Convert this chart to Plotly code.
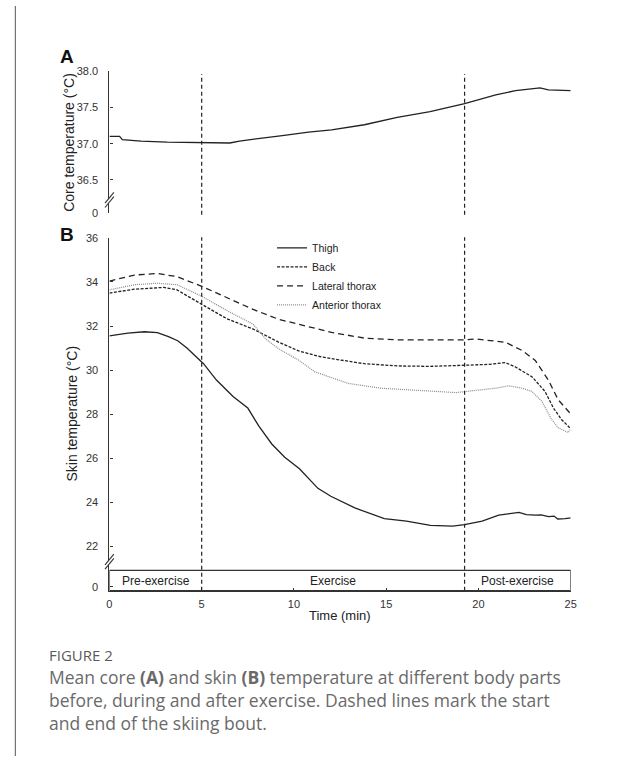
import plotly.graph_objects as go

W, H = 622, 762

# ---------------- data ----------------
core_t = [0, 0.55, 0.7, 1.71, 3.13, 4.96, 6.52, 7.05, 8.12, 9.37, 10.79, 12.04, 13.82,
          15.6, 17.38, 19.25, 20.94, 22.01, 23.34, 23.79, 25]
core_v = [37.10, 37.10, 37.055, 37.036, 37.02, 37.018, 37.009, 37.036, 37.067, 37.11, 37.158,
          37.19, 37.26, 37.36, 37.44, 37.55, 37.67, 37.73, 37.766, 37.74, 37.73]

thigh_t = [0, 1, 1.9, 2.6, 3.2, 3.7, 4.2, 4.6, 5.1, 5.8, 6.7, 7.5, 8.1, 8.8, 9.5, 10.3, 11.3,
           12.0, 13.3, 14.9, 16.1, 17.4, 18.6, 19.25, 20.2, 21.1, 21.7, 22.2, 22.6, 23.1, 23.4,
           23.8, 24.1, 24.3, 24.7, 25]
thigh_v = [31.55, 31.68, 31.74, 31.70, 31.52, 31.33, 31.0, 30.67, 30.29, 29.55, 28.8, 28.28,
           27.46, 26.65, 26.05, 25.53, 24.64, 24.28, 23.75, 23.27, 23.15, 22.96, 22.93, 22.99,
           23.15, 23.42, 23.5, 23.55, 23.45, 23.42, 23.44, 23.36, 23.38, 23.25, 23.27, 23.3]

back_t = [0, 1.35, 2.95, 3.66, 5.03, 6.37, 7.79, 9.19, 10.26, 11.32, 12.04, 13.82, 15.6, 17.38,
          19.25, 20.58, 21.47, 22.01, 22.9, 23.61, 24.06, 24.5, 24.95]
back_v = [33.49, 33.67, 33.75, 33.64, 32.97, 32.33, 31.86, 31.26, 30.87, 30.63, 30.52, 30.29,
          30.19, 30.17, 30.22, 30.26, 30.34, 30.14, 29.7, 29.03, 28.29, 27.76, 27.39]

lat_t = [0, 1.35, 2.6, 3.66, 5.03, 6.37, 7.79, 9.19, 10.26, 11.15, 12.04, 13.82, 15.6, 17.38,
         19.25, 19.87, 21.47, 22.37, 23.08, 23.79, 24.32, 24.95]
lat_v = [34.04, 34.31, 34.38, 34.24, 33.79, 33.3, 32.75, 32.3, 32.08, 31.9, 31.71, 31.45, 31.37,
         31.37, 31.37, 31.41, 31.26, 30.89, 30.44, 29.55, 28.66, 28.06]

ant_t = [0, 1.35, 2.6, 3.66, 5.03, 6.37, 7.79, 8.47, 9.19, 10.26, 11.14, 12.93, 14.7, 16.49,
         18.27, 18.8, 20.05, 20.94, 21.65, 22.37, 22.9, 23.44, 23.97, 24.32, 24.86, 25]
ant_v = [33.64, 33.87, 33.94, 33.87, 33.34, 32.7, 32.08, 31.41, 30.96, 30.45, 29.92, 29.4,
         29.18, 29.1, 29.03, 28.98, 29.1, 29.18, 29.29, 29.18, 29.03, 28.58, 27.76, 27.39,
         27.17, 27.32]

phase_names = ["Pre-exercise", "Exercise", "Post-exercise"]
phase_bounds = [0, 5, 19.25, 25]

core_ticks = ["0", "36.5", "37.0", "37.5", "38.0"]
core_tickvals = [36.05, 36.5, 37.0, 37.5, 38.0]
skin_ticks = ["0", "22", "24", "26", "28", "30", "32", "34", "36"]
skin_tickvals = [20.18, 22, 24, 26, 28, 30, 32, 34, 36]
time_ticks = [0, 5, 10, 15, 20, 25]

# ---------------- helpers (pixel -> paper) ----------------
def px(x):
    return x / W

def py(y):
    return 1 - y / H

AX = "#333333"
FONT = "Liberation Sans, Arial, sans-serif"

fig = go.Figure()

fig.add_trace(go.Scatter(x=core_t, y=core_v, mode="lines", xaxis="x", yaxis="y",
                         line=dict(color="#222222", width=1.3), showlegend=False))

fig.add_trace(go.Scatter(x=thigh_t, y=thigh_v, mode="lines", name="Thigh", xaxis="x2", yaxis="y2",
                         line=dict(color="#222222", width=1.3)))
fig.add_trace(go.Scatter(x=back_t, y=back_v, mode="lines", name="Back", xaxis="x2", yaxis="y2",
                         line=dict(color="#222222", width=1.3, dash="3px,1.5px")))
fig.add_trace(go.Scatter(x=lat_t, y=lat_v, mode="lines", name="Lateral thorax", xaxis="x2", yaxis="y2",
                         line=dict(color="#222222", width=1.3, dash="6px,4px")))
fig.add_trace(go.Scatter(x=ant_t, y=ant_v, mode="lines", name="Anterior thorax", xaxis="x2", yaxis="y2",
                         line=dict(color="#8a8a8a", width=1.2, dash="1px,1px")))

xdom = [px(108), px(576)]
common_y = dict(showgrid=False, zeroline=False, showline=True, linecolor=AX, linewidth=1.2,
                ticks="inside", ticklen=3, tickcolor=AX, tickwidth=1, ticklabelstandoff=8,
                tickfont=dict(family=FONT, size=11, color="#333333"))

shapes = []
annotations = []

# vertical dashed lines (panel A and B)
for b in phase_bounds[1:3]:
    shapes.append(dict(type="line", xref="x", yref="paper", x0=b, x1=b, y0=py(212), y1=py(69),
                       line=dict(color="#222222", width=1.2, dash="4px,3px")))
    shapes.append(dict(type="line", xref="x2", yref="paper", x0=b, x1=b, y0=py(594), y1=py(235),
                       line=dict(color="#222222", width=1.2, dash="4px,3px")))

# phase bar
shapes.append(dict(type="rect", xref="x2", yref="paper", x0=phase_bounds[0], x1=phase_bounds[-1],
                   y0=py(594), y1=py(573.5), line=dict(color=AX, width=1.2), fillcolor="rgba(0,0,0,0)"))
for i, name in enumerate(phase_names):
    annotations.append(dict(text=name, xref="x2", yref="paper",
                            x=(phase_bounds[i] + phase_bounds[i + 1]) / 2, y=py(584),
                            showarrow=False, xanchor="center", yanchor="middle",
                            font=dict(family=FONT, size=12, color="#222222")))

# axis break marks
def brk(yc):
    out = []
    g = 2.2
    out.append(dict(type="path", xref="paper", yref="paper",
                    path=f"M {px(103.5)},{py(yc + 5 - g)} L {px(112.5)},{py(yc - 6 - g)} "
                         f"L {px(112.5)},{py(yc - 6 + g)} L {px(103.5)},{py(yc + 5 + g)} Z",
                    fillcolor="white", line=dict(width=0)))
    for s in (-g, g):
        out.append(dict(type="line", xref="paper", yref="paper",
                        x0=px(103.5), y0=py(yc + 5 + s), x1=px(112.5), y1=py(yc - 6 + s),
                        line=dict(color=AX, width=1.1)))
    return out

shapes += brk(197.5)
shapes += brk(565)

# left border
shapes.append(dict(type="line", xref="paper", yref="paper", x0=px(12.5), x1=px(12.5), y0=0, y1=1,
                   line=dict(color="#555555", width=1)))

# panel letters
annotations.append(dict(text="<b>A</b>", xref="paper", yref="paper", x=px(65), y=py(51),
                        showarrow=False, xanchor="center", yanchor="middle",
                        font=dict(family=FONT, size=19, color="#111111")))
annotations.append(dict(text="<b>B</b>", xref="paper", yref="paper", x=px(65), y=py(232),
                        showarrow=False, xanchor="center", yanchor="middle",
                        font=dict(family=FONT, size=19, color="#111111")))

# axis titles
annotations.append(dict(text="Core temperature (°C)", xref="paper", yref="paper", x=px(67), y=py(139),
                        textangle=-90, showarrow=False, xanchor="center", yanchor="middle",
                        font=dict(family=FONT, size=14, color="#222222")))
annotations.append(dict(text="Skin temperature (°C)", xref="paper", yref="paper", x=px(70), y=py(414),
                        textangle=-90, showarrow=False, xanchor="center", yanchor="middle",
                        font=dict(family=FONT, size=14, color="#222222")))
annotations.append(dict(text="Time (min)", xref="paper", yref="paper", x=px(342), y=py(619),
                        showarrow=False, xanchor="center", yanchor="middle",
                        font=dict(family=FONT, size=13, color="#222222")))

# caption
CAP = "Open Sans, sans-serif"
annotations.append(dict(text="FIGURE 2", xref="paper", yref="paper", x=px(45), y=py(659),
                        showarrow=False, xanchor="left", yanchor="middle",
                        font=dict(family=CAP, size=15, color="#5a5a5a")))
cap_lines = ["Mean core <b>(A)</b> and skin <b>(B)</b> temperature at different body parts",
             "before, during and after exercise. Dashed lines mark the start",
             "and end of the skiing bout."]
for i, ln in enumerate(cap_lines):
    annotations.append(dict(text=ln, xref="paper", yref="paper", x=px(45), y=py(682 + 23 * i),
                            showarrow=False, xanchor="left", yanchor="middle",
                            font=dict(family=CAP, size=17.5, color="#6a6a6a")))

fig.update_layout(
    width=W, height=H,
    margin=dict(l=0, r=0, t=0, b=0),
    paper_bgcolor="white", plot_bgcolor="white",
    font=dict(family=FONT, color="#222222"),
    xaxis=dict(domain=xdom, range=[0, 25], visible=False, anchor="y"),
    yaxis=dict(domain=[py(210), py(66)], range=[36.05, 38.0], tickvals=core_tickvals,
               ticktext=core_ticks, anchor="x", **common_y),
    xaxis2=dict(domain=xdom, range=[0, 25], anchor="y2", showgrid=False, zeroline=False,
                showline=True, linecolor=AX, linewidth=1.2, ticks="inside", ticklen=3,
                tickcolor=AX, tickvals=time_ticks, ticklabelstandoff=3,
                tickfont=dict(family=FONT, size=11, color="#333333")),
    yaxis2=dict(domain=[py(594), py(235.5)], range=[20, 36], tickvals=skin_tickvals,
                ticktext=skin_ticks, anchor="x2", **common_y),
    legend=dict(x=px(273), y=py(231), xanchor="left", yanchor="top", bgcolor="rgba(0,0,0,0)",
                font=dict(family=FONT, size=10.5, color="#222222"), itemwidth=30,
                tracegroupgap=0),
    shapes=shapes,
    annotations=annotations,
)

fig.write_html(
    "out.html",
    config={"displayModeBar": False},
    post_script="document.body.style.margin='0';document.documentElement.style.margin='0';"
                "document.documentElement.style.overflow='hidden';",
)
